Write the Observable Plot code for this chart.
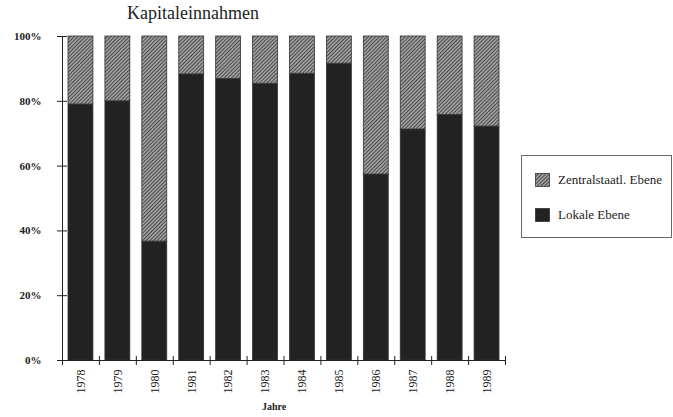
<!DOCTYPE html>
<html>
<head>
<meta charset="utf-8">
<script src="https://cdn.jsdelivr.net/npm/d3@7"></script>
<script src="https://cdn.jsdelivr.net/npm/@observablehq/plot@0.6"></script>
<style>
  html, body { margin: 0; padding: 0; background: #fff; }
  #wrap { position: relative; width: 673px; height: 417px; font-family: 'Liberation Serif', 'Times New Roman', serif; }
  #legend { position: absolute; left: 521px; top: 155px; width: 151px; height: 83px; border: 1px solid #666; box-sizing: border-box; font-family: 'Liberation Serif', 'Times New Roman', serif; font-size: 13px; color: #222; }
  .item { position: absolute; left: 13px; display: flex; align-items: center; font-family: 'Liberation Serif', 'Times New Roman', serif; }
  .item svg { margin-right: 8px; }
</style>
</head>
<body>
<div id="wrap"></div>
<script>
const years = ["1978","1979","1980","1981","1982","1983","1984","1985","1986","1987","1988","1989"];
const lokale = [79, 80, 36.7, 88.3, 86.9, 85.4, 88.5, 91.6, 57.4, 71.3, 75.8, 72.2];
const zentral = lokale.map(v => 100 - v);
const yTicks = [0, 20, 40, 60, 80, 100];
const seriesNames = ["Zentralstaatl. Ebene", "Lokale Ebene"];
const title = "Kapitaleinnahmen";
const xLabel = "Jahre";

const data = years.map((year, i) => ({ i, year, lokale: lokale[i], zentral: zentral[i] }));
const font = "'Liberation Serif', 'Times New Roman', serif";

const plot = Plot.plot({
  width: 673,
  height: 417,
  marginLeft: 62,
  marginRight: 168,
  marginTop: 36,
  marginBottom: 57,
  style: { fontFamily: font, fontSize: "11px", color: "#222", background: "white" },
  x: { type: "linear", domain: [0, years.length] },
  y: { domain: [0, 100] },
  marks: [
    Plot.rectY(data, { x1: d => d.i, x2: d => d.i + 1, y1: 0, y2: "lokale", fill: "#222", stroke: "#333", strokeWidth: 0.8, insetLeft: 6, insetRight: 6 }),
    Plot.rectY(data, { x1: d => d.i, x2: d => d.i + 1, y1: "lokale", y2: 100, fill: "url(#hatch)", stroke: "#333", strokeWidth: 0.8, insetLeft: 6, insetRight: 6 }),
    Plot.ruleY([0], { stroke: "#222", strokeWidth: 1 }),
    Plot.ruleX([0], { stroke: "#222", strokeWidth: 1 }),
    Plot.axisY({ ticks: yTicks, tickFormat: d => d + "%", tickSize: 5, tickPadding: 16, label: null, fontWeight: "bold", fontSize: 11, fontFamily: font }),
    Plot.axisY({ ticks: yTicks, tickFormat: () => "", tickSize: 5, dx: 5, label: null }),
    Plot.axisX({ ticks: d3.range(years.length + 1), tickFormat: () => "", tickSize: 5, label: null }),
    Plot.axisX({ ticks: d3.range(years.length + 1), tickFormat: () => "", tickSize: 4, dy: -4, label: null }),
    Plot.text(data, { x: d => d.i + 0.5, y: 0, text: "year", rotate: -90, textAnchor: "end", dy: 9, fontSize: 12, fontFamily: font }),
    Plot.text([xLabel], { frameAnchor: "bottom", dy: 49, dx: -10, fontSize: 10, fontWeight: "bold", fontFamily: font }),
    Plot.text([title], { frameAnchor: "top", dy: -18, dx: -91, fontSize: 18, fontFamily: font, lineAnchor: "bottom" })
  ]
});

// hatch pattern definition
const svg = d3.select(plot);
const defs = svg.insert("defs", ":first-child");
const pat = defs.append("pattern").attr("id", "hatch").attr("patternUnits", "userSpaceOnUse")
  .attr("width", 2.6).attr("height", 2.6).attr("patternTransform", "rotate(45)");
pat.append("rect").attr("width", 2.6).attr("height", 2.6).attr("fill", "#9c9c9c");
pat.append("line").attr("x1", 0).attr("y1", 0).attr("x2", 0).attr("y2", 2.6).attr("stroke", "#2a2a2a").attr("stroke-width", 1.3);

const wrap = document.getElementById("wrap");
wrap.appendChild(plot);

// legend
const legend = document.createElement("div");
legend.id = "legend";
const fills = ["url(#hatchL)", "#222"];
const tops = [23, 58];
seriesNames.forEach((name, k) => {
  const item = document.createElement("div");
  item.className = "item";
  item.style.top = (tops[k] - 7) + "px";
  item.innerHTML = `<svg width="15" height="14"><defs><pattern id="hatchL" patternUnits="userSpaceOnUse" width="2.6" height="2.6" patternTransform="rotate(45)"><rect width="2.6" height="2.6" fill="#9c9c9c"/><line x1="0" y1="0" x2="0" y2="2.6" stroke="#2a2a2a" stroke-width="1.3"/></pattern></defs><rect x="0.5" y="0.5" width="14" height="13" fill="${fills[k]}" stroke="#333" stroke-width="0.8"/></svg><span>${name}</span>`;
  legend.appendChild(item);
});
wrap.appendChild(legend);
</script>
</body>
</html>
